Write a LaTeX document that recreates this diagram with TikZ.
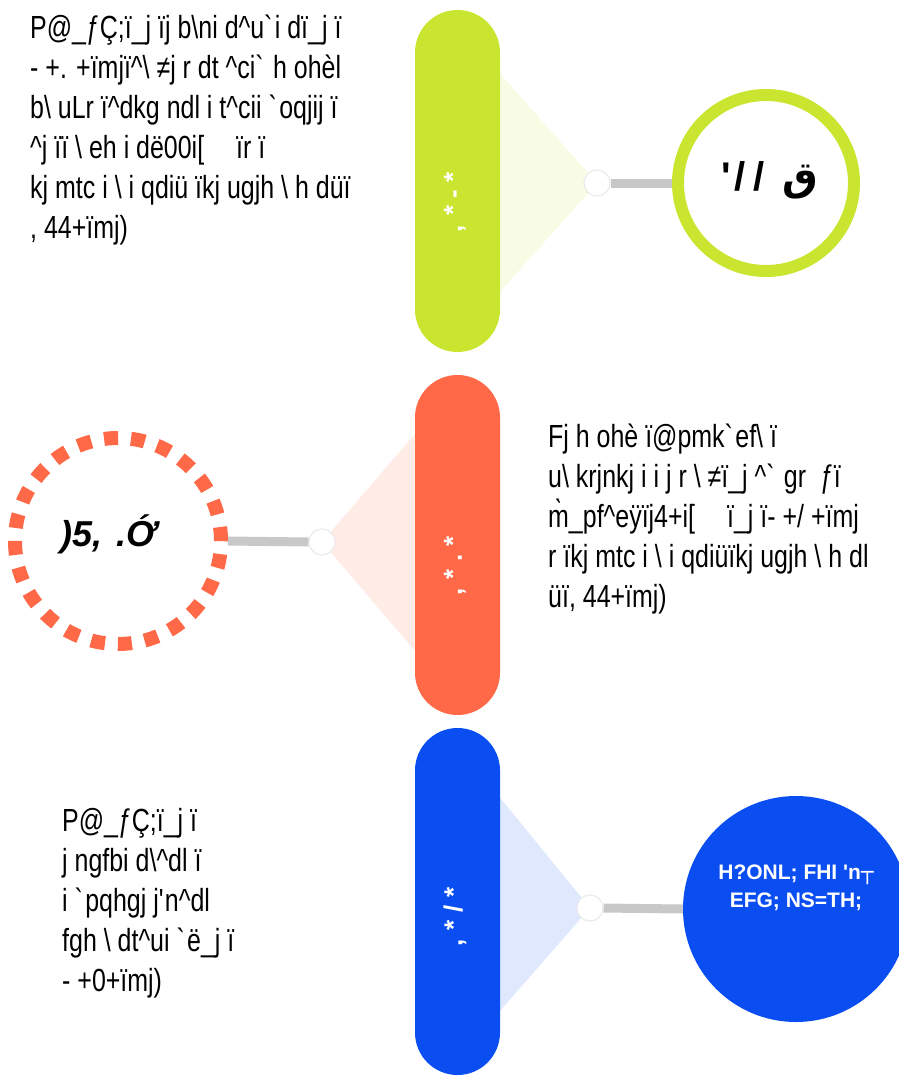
\documentclass[tikz,border=0pt]{standalone}
\usepackage{fontspec}
\setmainfont{Liberation Sans}[FakeStretch=0.78]
\newfontfamily\plainsans{Liberation Sans}
\newfontfamily\dejavu{DejaVu Sans}
\newfontfamily\arabicfont[Script=Arabic]{DejaVu Sans}
\TeXXeTstate=1
\newcommand\bsl{\textbackslash{}}
\newcommand\crt{\textasciicircum{}}
\newcommand\grv{\textasciigrave{}}
\definecolor{lime}{RGB}{201,229,48}
\definecolor{tomato}{RGB}{255,105,71}
\definecolor{royal}{RGB}{10,78,242}
\definecolor{connector}{RGB}{200,200,200}
\tikzset{
  pill/.style={rectangle, rounded corners=42.5pt, minimum width=85pt, inner sep=0pt},
  pilltag/.style={rotate=90, text=white, font=\plainsans\bfseries\fontsize{26}{26}\selectfont, inner sep=0pt},
  dot/.style={circle, fill=white, draw=black!8, line width=1pt, minimum size=26pt, inner sep=0pt},
  conn/.style={draw=connector, line width=9pt},
  para/.style={anchor=north west, align=left, inner sep=0pt, font=\fontsize{32}{40}\selectfont},
  fan/.style={opacity=0.13},
}
\begin{document}
\begin{tikzpicture}[x=1pt,y=-1pt]
\useasboundingbox (0,0) rectangle (898,1079);

% faint fans behind the pills
\fill[lime,fan] (457,25) -- (597,183) -- (457,340) -- cycle;
\fill[tomato,fan] (457,385) -- (322,542) -- (457,700) -- cycle;
\fill[royal,fan] (457,745) -- (590,908) -- (457,1060) -- cycle;

% pills
\node[pill, fill=lime, minimum height=342pt] (p1) at (457.5,181) {};
\node[pill, fill=tomato, minimum height=340pt] (p2) at (457.5,545) {};
\node[pill, fill=royal, minimum height=347pt] (p3) at (457.5,901.5) {};

\node[pilltag] (t1) at (455,202) {,\hspace{9pt}*\hspace{7.5pt}-\hspace{7.5pt}*};
\node[pilltag] (t2) at (455,566) {,\hspace{9pt}*\hspace{7.5pt}.\hspace{7.5pt}*};
\node[pilltag] (t3) at (455,917) {,\hspace{9pt}*\hspace{7.5pt}/\hspace{7.5pt}*};

% end circles
\node[circle, draw=lime, line width=12pt, minimum size=176pt, inner sep=0pt] (c1) at (766,183) {};
\node[circle, draw=tomato, line width=14pt, dash pattern=on 14pt off 12.96pt, minimum size=206pt, inner sep=0pt] (c2) at (118,541) {};
\node[circle, fill=royal, minimum size=226pt, inner sep=0pt] (c3) at (796,909) {};

% small joints
\node[dot] (d1) at (597,183) {};
\node[dot] (d2) at (322,542) {};
\node[dot] (d3) at (590,908) {};

% connectors
\draw[conn] (d1.east) -- (c1.west);
\draw[conn] (d2.west) -- (c2.east);
\draw[conn] (d3.east) -- (c3.west);
\node[dot] at (d1) {};
\node[dot] at (d2) {};
\node[dot] at (d3) {};

% labels inside circles
\node[font=\plainsans\bfseries\fontsize{40}{40}\selectfont] (l1) at (770,180) {\textquotesingle\hspace{3pt}/\hspace{8pt}/\hspace{18pt}{\arabicfont\bfseries\beginR ق\endR}};
\node[font=\plainsans\bfseries\itshape\fontsize{36}{36}\selectfont] (l2) at (109,534) {)5,\hspace{14pt}.Ớ};
\node[align=center, text=white, font=\plainsans\bfseries\fontsize{21}{28}\selectfont] (l3) at (796,888) {H?ONL; FHI \textquotesingle n{\dejavu ┬}\\EFG; NS=TH;};

% paragraphs
\node[para] (g) at (30,15) {P@\_ƒÇ;ï\_j ïj b\bsl ni d\crt u\grv i dï\_j ï\\
- +. +ïmjï\crt\bsl\ ≠j r dt \crt ci\grv\ h ohèl\\
b\bsl\ uLr ï\crt dkg ndl i t\crt cii \grv oqjij ï\\
\crt j ïï \bsl\ eh i dë00i[\quad ïr ï\\
kj mtc i \bsl\ i qdiü ïkj ugjh \bsl\ h düï\\
, 44+ïmj)};

\node[para] (o) at (548,424) {Fj h ohè ï@pmk\grv ef\bsl\ ï\\
u\bsl\ krjnkj i i j r \bsl\ ≠ï\_j \crt\grv\ gr \ ƒï\\
m̀\_pf\crt eÿïj4+i[\quad ï\_j ï- +/ +ïmj\\
r ïkj mtc i \bsl\ i qdiüïkj ugjh \bsl\ h dl\\
üï, 44+ïmj)};

\node[para] (b) at (62,808) {P@\_ƒÇ;ï\_j ï\\
j ngfbi d\bsl\crt dl ï\\
i \grv pqhgj j\textquotesingle n\crt dl\\
fgh \bsl\ dt\crt ui \grv ë\_j ï\\
- +0+ïmj)};
\end{tikzpicture}
\end{document}
